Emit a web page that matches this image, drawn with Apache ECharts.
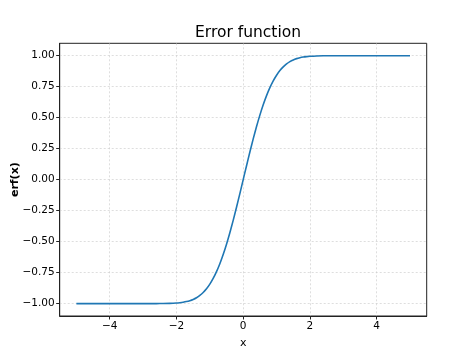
<!DOCTYPE html>
<html><head><meta charset="utf-8">
<script src="https://cdn.jsdelivr.net/npm/echarts@6/dist/echarts.min.js"></script>
<style>html,body{margin:0;padding:0;background:#fff}#c{width:474px;height:355px}</style>
</head><body><div id="c"></div>
<script>
var xValues = [-5.0,-4.0,-3.0,-2.6,-2.4,-2.2,-2.0,-1.9,-1.8,-1.7,-1.6,-1.5,-1.4,-1.3,-1.2,-1.1,-1.0,-0.9,-0.8,-0.7,-0.6,-0.5,-0.4,-0.3,-0.2,-0.1,0.0,0.1,0.2,0.3,0.4,0.5,0.6,0.7,0.8,0.9,1.0,1.1,1.2,1.3,1.4,1.5,1.6,1.7,1.8,1.9,2.0,2.2,2.4,2.6,3.0,4.0,5.0];
var erfValues = [-1.0,-1.0,-1.0,-0.9998,-0.9993,-0.9981,-0.9953,-0.9928,-0.9891,-0.9838,-0.9763,-0.9661,-0.9523,-0.9340,-0.9103,-0.8802,-0.8427,-0.7969,-0.7421,-0.6778,-0.6039,-0.5205,-0.4284,-0.3286,-0.2227,-0.1125,0.0,0.1125,0.2227,0.3286,0.4284,0.5205,0.6039,0.6778,0.7421,0.7969,0.8427,0.8802,0.9103,0.9340,0.9523,0.9661,0.9763,0.9838,0.9891,0.9928,0.9953,0.9981,0.9993,0.9998,1.0,1.0,1.0];
var xTicks = [-4,-2,0,2,4];
var yTicks = [-1.0,-0.75,-0.5,-0.25,0.0,0.25,0.5,0.75,1.0];

var pts = xValues.map(function(x,i){return [x, erfValues[i]];});
var fam = 'DejaVu Sans';
function minus(s){return String(s).replace('-', '\u2212');}
var chart = echarts.init(document.getElementById('c'), null, {renderer:'canvas'});
chart.setOption({
  animation:false,
  backgroundColor:'#fff',
  title:{text:'Error function', left:243, top:20, textAlign:'center',
    textStyle:{fontFamily:fam, fontSize:15.5, fontWeight:'normal', color:'#000'}},
  grid:{left:59.7, right:47.3, top:43.3, bottom:39, show:true, borderColor:'#222', borderWidth:1,
    containLabel:false, outerBoundsMode:'none'},
  xAxis:{type:'value', min:-5.5, max:5.5,
    name:'x', nameLocation:'middle', nameGap:22, nameMoveOverlap:false,
    nameTextStyle:{fontFamily:fam, fontSize:11, color:'#000'},
    axisLine:{show:true, onZero:false, lineStyle:{color:'#222', width:1}},
    axisTick:{show:true, length:3.5, inside:false, customValues:xTicks, lineStyle:{color:'#222'}},
    axisLabel:{customValues:xTicks, margin:5, fontFamily:fam, fontSize:10.5, color:'#000',
      formatter:function(v){return minus(v);}},
    splitLine:{show:true, customValues:xTicks, lineStyle:{color:'#c8c8c8', type:[2,2], width:0.6}}
  },
  yAxis:{type:'value', min:-1.1, max:1.1,
    name:'erf(x)', nameLocation:'middle', nameGap:39, nameRotate:90, nameMoveOverlap:false,
    nameTextStyle:{fontFamily:fam, fontSize:11, fontWeight:'bold', color:'#000'},
    axisLine:{show:true, onZero:false, lineStyle:{color:'#222', width:1}},
    axisTick:{show:true, length:3.5, inside:false, customValues:yTicks, lineStyle:{color:'#222'}},
    axisLabel:{customValues:yTicks, margin:5, fontFamily:fam, fontSize:10.5, color:'#000',
      formatter:function(v){return minus(Number(v).toFixed(2));}},
    splitLine:{show:true, customValues:yTicks, lineStyle:{color:'#c8c8c8', type:[2,2], width:0.6}}
  },
  series:[{type:'line', data:pts, showSymbol:false, smooth:0.3,
    lineStyle:{color:'#1f77b4', width:1.6}}]
});
</script></body></html>
